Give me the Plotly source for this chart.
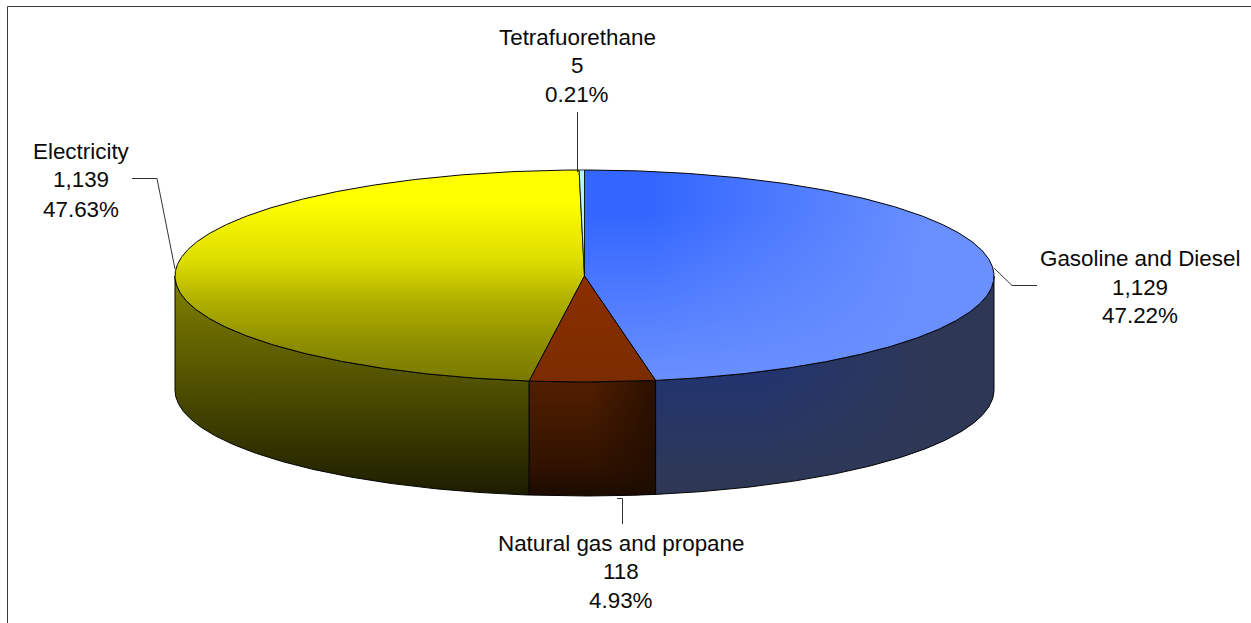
import numpy as np
import plotly.graph_objects as go

# ---- data (clockwise from 12 o'clock) ----
categories = ["Gasoline and Diesel", "Natural gas and propane", "Electricity", "Tetrafuorethane"]
value_labels = ["1,129", "118", "1,139", "5"]
percents = [47.22, 4.93, 47.63, 0.21]
percent_labels = ["47.22%", "4.93%", "47.63%", "0.21%"]

# ---- layout constants ----
W, H = 1251, 623
CX, CY, RX, RY, DEPTH = 584.5, 276.0, 409.5, 106.0, 114.0
FONT = dict(family="Liberation Sans, Arial, sans-serif", size=22.4, color="#0a0a0a")
LABEL_POS = {"Gasoline and Diesel": (1140, [258, 287, 315]),
             "Natural gas and propane": (621, [543, 571, 600]),
             "Electricity": (81, [151, 179, 209]),
             "Tetrafuorethane": (577, [37, 65, 94])}
LEADERS = ["M132,178.5 L157,178.5 L175,269",
           "M994,268 L1012,285.5 L1037,285.5",
           "M577.5,112 L577.5,172",
           "M617,498.5 L622.5,498.5 L622.5,524"]

def ell(a_deg, dy=0.0):
    a = np.radians(a_deg)
    return CX + RX * np.sin(a), CY - RY * np.cos(a) + dy

def vgrad(stops, start, stop):
    return dict(type="vertical", start=start, stop=stop,
                colorscale=[[p, c] for p, c in stops])

def hgrad(stops, start, stop):
    return dict(type="horizontal", start=start, stop=stop,
                colorscale=[[p, c] for p, c in stops])

fig = go.Figure()

def poly(x, y, grads, line="#050505", width=1.0):
    for i, g in enumerate(grads):
        last = i == len(grads) - 1
        fig.add_trace(go.Scatter(
            x=list(x), y=list(y), mode="lines", fill="toself", fillgradient=g,
            line=dict(color=line if last else "rgba(0,0,0,0)", width=width if last else 0),
            hoverinfo="skip", showlegend=False))

edges = np.concatenate([[0], np.cumsum(percents)]) / sum(percents) * 360
a0 = dict(zip(categories, edges[:-1]))
a1 = dict(zip(categories, edges[1:]))

def wall(lo, hi):
    lo, hi = max(lo, 90), min(hi, 270)
    t = np.linspace(lo, hi, 180)
    xt, yt = ell(t)
    xb, yb = ell(t[::-1], DEPTH)
    return np.r_[xt, xb, xt[0]], np.r_[yt, yb, yt[0]]

def top(lo, hi):
    t = np.linspace(lo, hi, 400)
    x, y = ell(t)
    return np.r_[CX, x, CX], np.r_[CY, y, CY]

GAS, NAT, ELE, TET = categories

# side walls
x, y = wall(a0[ELE], a1[ELE])
poly(x, y, [vgrad([(0, "#7e7e00"), (1, "#1c1c00")], 285, 496)])
x, y = wall(a0[GAS], a1[GAS])
poly(x, y, [vgrad([(0, "#22346f"), (1, "#2e3856")], 375, 480),
            hgrad([(0, "rgba(46,56,86,0)"), (1, "rgba(46,56,86,1)")], 760, 930)])
x, y = wall(a0[NAT], a1[NAT])
poly(x, y, [vgrad([(0, "#521e00"), (0.75, "#301200"), (1, "#1c0b00")], 381, 496),
            hgrad([(0, "rgba(30,12,0,0)"), (1, "rgba(30,12,0,0.75)")], 590, 655)])

# top faces
x, y = top(a0[ELE], a1[ELE])
poly(x, y, [vgrad([(0, "#ffff00"), (0.15, "#ffff00"), (0.43, "#dddd00"), (0.62, "#b0b000"),
                   (0.81, "#909000"), (1, "#787800")], 170, 381)])
x, y = top(a0[GAS], a1[GAS])
poly(x, y, [vgrad([(0, "#3366ff"), (0.2, "#3366ff"), (1, "#6a90ff")], 170, 381),
            hgrad([(0, "rgba(106,144,255,0)"), (1, "rgba(106,144,255,1)")], 650, 930)])
x, y = top(a0[NAT], a1[NAT])
poly(x, y, [vgrad([(0, "#8c2f00"), (1, "#7a2c00")], 276, 381)])
x, y = top(a0[TET], a1[TET])
poly(x, y, [vgrad([(0, "#b5f5ff"), (1, "#b5f5ff")], 170, 276)], width=0.8)

# labels
for c, v, p in zip(categories, value_labels, percent_labels):
    lx, ys = LABEL_POS[c]
    for txt, ly in zip((c, v, p), ys):
        fig.add_annotation(x=lx, y=ly, text=txt, showarrow=False, font=FONT,
                           xanchor="center", yanchor="middle")

shapes = [dict(type="path", path=p, line=dict(color="#333333", width=1), layer="above")
          for p in LEADERS]
shapes.append(dict(type="path", path=f"M7.5,{H} L7.5,6.5 L{W},6.5",
                   line=dict(color="#3a3a3a", width=1), layer="below"))

fig.update_layout(
    width=W, height=H, margin=dict(l=0, r=0, t=0, b=0),
    paper_bgcolor="white", plot_bgcolor="white", showlegend=False, shapes=shapes,
    xaxis=dict(range=[0, W], visible=False, fixedrange=True),
    yaxis=dict(range=[H, 0], visible=False, fixedrange=True),
)
fig.write_html("out.html", config={"displayModeBar": False},
               post_script="document.body.style.margin='0';document.body.style.overflow='hidden';")
